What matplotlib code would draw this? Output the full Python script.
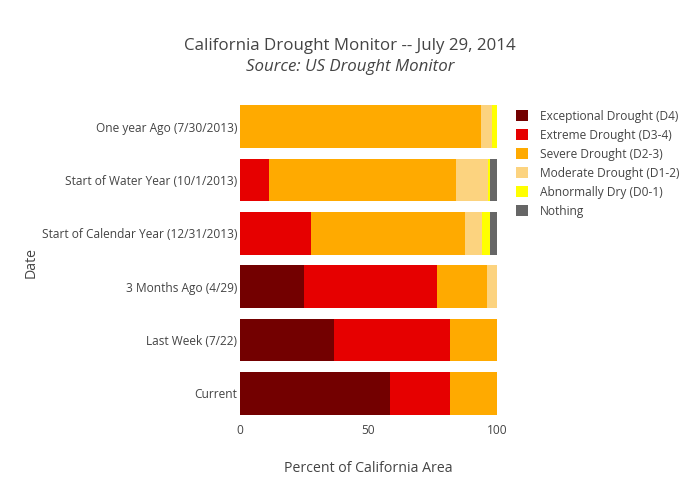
import matplotlib
matplotlib.use('Agg')
import matplotlib.pyplot as plt
import numpy as np

plt.rcParams['font.family'] = ['Open Sans', 'DejaVu Sans']

# 从下到上的类别
dates = ['Current', 'Last Week (7/22)', '3 Months Ago (4/29)',
         'Start of Calendar Year (12/31/2013)', 'Start of Water Year (10/1/2013)',
         'One year Ago (7/30/2013)']

d4 = [58.4, 36.6, 24.8, 0, 0, 0]
d3 = [23.4, 45.2, 52.0, 27.7, 11.3, 0]
d2 = [18.2, 18.2, 19.4, 60.0, 72.9, 93.9]
d1 = [0, 0, 3.8, 6.5, 12.2, 4.15]
d0 = [0, 0, 0, 3.2, 1.0, 1.95]
nothing = [0, 0, 0, 2.6, 2.6, 0]

series = [
    ('Exceptional Drought (D4)', d4, '#730000'),
    ('Extreme Drought (D3-4)', d3, '#e60000'),
    ('Severe Drought (D2-3)', d2, '#ffaa00'),
    ('Moderate Drought (D1-2)', d1, '#fcd37f'),
    ('Abnormally Dry (D0-1)', d0, '#ffff00'),
    ('Nothing', nothing, '#666666'),
]

fig = plt.figure(figsize=(7, 5), dpi=100)
ax = fig.add_axes([0.3429, 0.16, 0.367, 0.64])

y = np.arange(len(dates))
left = np.zeros(len(dates))
handles = []
for name, vals, color in series:
    vals = np.array(vals)
    h = ax.barh(y, vals, left=left, height=0.8, color=color, label=name, linewidth=0)
    handles.append(h)
    left += vals

ax.set_xlim(0, 100)
ax.set_ylim(-0.5, len(dates) - 0.5)
ax.set_yticks(y)
ax.set_yticklabels(dates)
ax.set_xticks([0, 50, 100])
ax.tick_params(axis='both', length=0, labelsize=8.6, colors='#444444')
ax.tick_params(axis='y', pad=2)
ax.tick_params(axis='x', pad=3)
for s in ax.spines.values():
    s.set_visible(False)

ax.set_xlabel('Percent of California Area', fontsize=10.2, color='#444444', labelpad=17)
fig.text(0.045, 0.475, 'Date', rotation=90, fontsize=10.2, color='#444444',
         ha='center', va='center')

fig.text(0.5, 0.908, 'California Drought Monitor -- July 29, 2014', fontsize=12.2,
         color='#444444', ha='center', va='center')
fig.text(0.5, 0.866, 'Source: US Drought Monitor', fontsize=12.2, style='italic',
         color='#444444', ha='center', va='center')

leg = fig.legend(handles=handles, loc='upper left', bbox_to_anchor=(0.731, 0.79),
                 frameon=False, fontsize=8.6, handlelength=1.0, handleheight=1.0,
                 labelspacing=0.5, handletextpad=1.0, borderaxespad=0)
for t in leg.get_texts():
    t.set_color('#444444')

plt.savefig('out.png', dpi=100)
